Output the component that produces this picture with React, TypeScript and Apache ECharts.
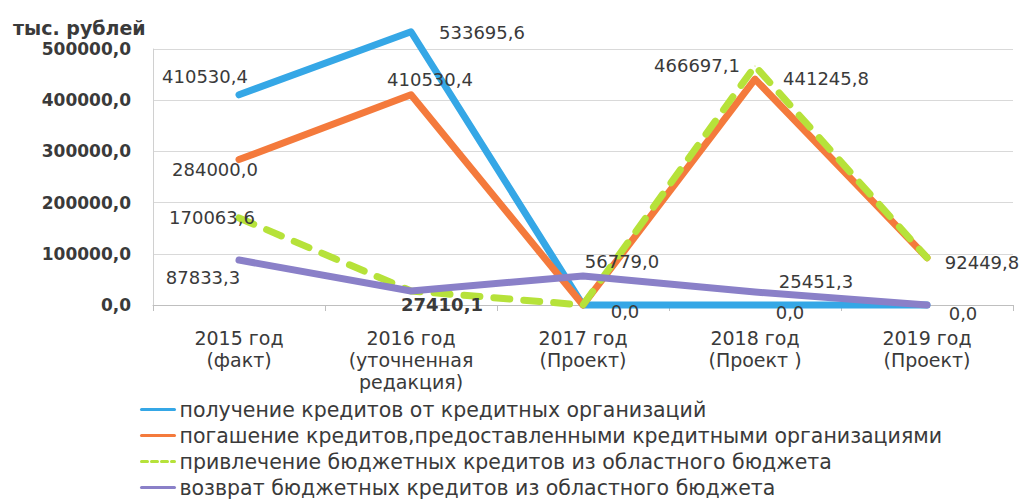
import React, { useEffect, useRef } from "react";
import * as echarts from "echarts";

const categories = [
  "2015 год\n(факт)",
  "2016 год\n(уточненная\nредакция)",
  "2017 год\n(Проект)",
  "2018 год\n(Проект )",
  "2019 год\n(Проект)",
];

const seriesNames = [
  "получение кредитов от кредитных организаций",
  "погашение кредитов,предоставленными кредитными организациями",
  "привлечение бюджетных кредитов из областного бюджета",
  "возврат бюджетных кредитов из областного бюджета",
];

const creditsReceived = [410530.4, 533695.6, 0, 0, 0];
const creditsRepaid = [284000.0, 410530.4, 0, 441245.8, 92449.8];
const budgetAttracted = [170063.6, 27410.1, 0, 466697.1, 92449.8];
const budgetReturned = [87833.3, 27410.1, 56779.0, 25451.3, 0];

const yTicks = { min: 0, max: 500000, interval: 100000 };

// label placement per point: [dx, dy] or null (hidden)
const labelOffsets: (number[] | null)[][] = [
  [[-34, -18], [71, 1], [42, 6], [35, 7], [36, 8]],
  [[-24, 10], [19, -15], null, [71, -1], [55, 5]],
  [[-27, 0], [31, 14], null, [-58, -1], null],
  [[-36, 17], null, [39, -14], [61, -10], null],
];
const boldLabels = [
  [false, false, false, false, false],
  [false, false, false, false, false],
  [false, true, false, false, false],
  [false, false, false, false, false],
];

const colors = ["#35a7e6", "#f47a3c", "#b6e23a", "#8a80c8"];
const FONT = "DejaVu Sans";

const fmt = (v: number) => v.toFixed(1).replace(".", ",");

export default function App() {
  const ref = useRef<HTMLDivElement>(null);
  useEffect(() => {
    if (!ref.current) return;
    const chart = echarts.init(ref.current, undefined, { renderer: "svg" });
    const allData = [creditsReceived, creditsRepaid, budgetAttracted, budgetReturned];
    const series = allData.map((arr, si) => ({
      name: seriesNames[si],
      type: "line",
      symbol: "circle",
      symbolSize: 1,
      clip: false,
      itemStyle: { color: colors[si] },
      lineStyle: {
        color: colors[si],
        width: 7,
        type: si === 2 ? [16, 14] : "solid",
        cap: "round",
        join: "round",
      },
      z: 2 + si,
      data: arr.map((v, i) => {
        const off = labelOffsets[si][i];
        return {
          value: v,
          label: off
            ? {
                show: true,
                position: "inside",
                offset: off,
                formatter: () => fmt(v),
                color: "#3a3a3a",
                fontFamily: FONT,
                fontSize: 18,
                fontWeight: boldLabels[si][i] ? "bold" : "normal",
              }
            : { show: false },
        };
      }),
    }));

    chart.setOption({
      animation: false,
      backgroundColor: "#ffffff",
      title: {
        text: "тыс. рублей",
        left: 8,
        top: 13,
        textStyle: { fontFamily: FONT, fontSize: 19, fontWeight: "bold", color: "#3a3a3a" },
      },
      legend: {
        orient: "vertical",
        left: 140,
        top: 399,
        height: 120,
        padding: 0,
        itemWidth: 33,
        itemHeight: 10,
        itemGap: 5,
        itemStyle: { opacity: 0 },
        lineStyle: { width: 3 },
        textStyle: { fontFamily: FONT, fontSize: 20.5, color: "#3a3a3a", lineHeight: 21 },
        data: seriesNames.map((n, i) =>
          i === 2 ? { name: n, lineStyle: { type: [6, 4], width: 3 } } : { name: n }
        ),
      },
      grid: { left: 153, right: 19, top: 49, bottom: 195, containLabel: false },
      xAxis: {
        type: "category",
        data: categories,
        boundaryGap: true,
        axisLine: { lineStyle: { color: "#bfbfbf" } },
        axisTick: { show: true, length: 6, lineStyle: { color: "#bfbfbf" } },
        axisLabel: {
          interval: 0,
          margin: 22,
          fontFamily: FONT,
          fontSize: 19,
          lineHeight: 22,
          color: "#3a3a3a",
        },
      },
      yAxis: {
        type: "value",
        min: yTicks.min,
        max: yTicks.max,
        interval: yTicks.interval,
        axisLine: { show: true, lineStyle: { color: "#d0d0d0" } },
        axisTick: { show: false },
        splitLine: { lineStyle: { color: "#d9d9d9" } },
        axisLabel: {
          margin: 22,
          formatter: (v: number) => fmt(v),
          fontFamily: FONT,
          fontSize: 17,
          fontWeight: "bold",
          color: "#3a3a3a",
        },
      },
      series,
    });
    return () => chart.dispose();
  }, []);
  return (
    <div
      ref={ref}
      style={{ position: "fixed", left: 0, top: 0, width: 1032, height: 500 }}
    />
  );
}
